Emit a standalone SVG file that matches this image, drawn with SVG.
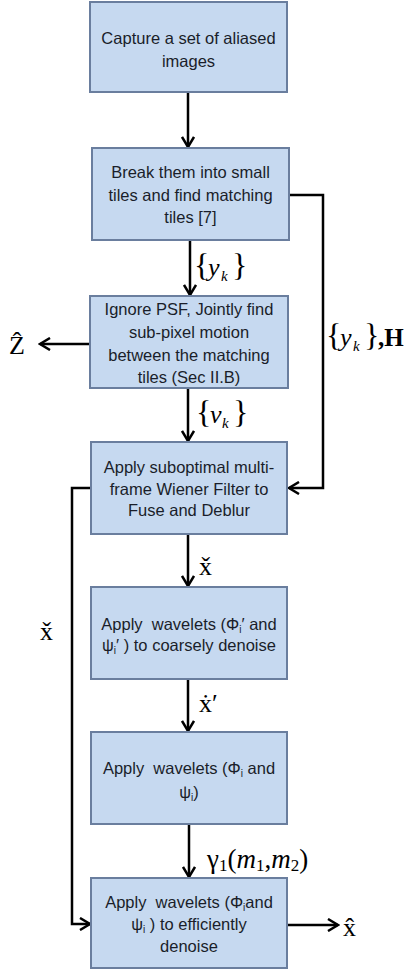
<svg xmlns="http://www.w3.org/2000/svg" width="417" height="970" viewBox="0 0 417 970">
<defs>
<style>
.box{fill:#c6d9f0;stroke:#6a7e9e;stroke-width:2}
.t{font-family:"Liberation Sans",Arial,sans-serif;font-size:16.5px;fill:#1a1e2a;text-anchor:middle;white-space:pre}
.m{font-family:"Liberation Serif","Times New Roman",serif;fill:#000}
.c{fill:none;stroke:#000;stroke-width:2.5}
</style>
<marker id="ah" viewBox="0 0 14 14" markerWidth="14" markerHeight="14" refX="12" refY="7" orient="auto" markerUnits="userSpaceOnUse">
<path d="M2,1 L12,7 L2,13" fill="none" stroke="#000" stroke-width="2.5"/>
</marker>
</defs>
<rect width="417" height="970" fill="#fff"/>

<g id="connectors">
<path class="c" d="M188,92 V147" marker-end="url(#ah)"/>
<path class="c" d="M190,240 V295" marker-end="url(#ah)"/>
<path class="c" d="M188,388 V441" marker-end="url(#ah)"/>
<path class="c" d="M188,534 V586" marker-end="url(#ah)"/>
<path class="c" d="M188,679 V731" marker-end="url(#ah)"/>
<path class="c" d="M189,824 V877" marker-end="url(#ah)"/>
<path class="c" d="M289,195 H323 V488 H289" marker-end="url(#ah)"/>
<path class="c" d="M91,488 H72 V924 H90" marker-end="url(#ah)"/>
<path class="c" d="M90,344 H40" marker-end="url(#ah)"/>
<path class="c" d="M287,925 H338" marker-end="url(#ah)"/>
</g>

<g id="labels">
<text class="m" x="194" y="276" font-size="32">{</text>
<text class="m" x="208" y="276" font-size="26" font-style="italic">y</text>
<text class="m" x="221" y="281" font-size="15" font-style="italic">k</text>
<text class="m" x="232" y="276" font-size="32">}</text>

<text class="m" x="326" y="346" font-size="32">{</text>
<text class="m" x="340" y="346" font-size="26" font-style="italic">y</text>
<text class="m" x="353" y="351" font-size="15" font-style="italic">k</text>
<text class="m" x="364" y="346" font-size="32">}</text>
<text class="m" x="378" y="346" font-size="25" font-weight="bold">,H</text>

<text class="m" x="196" y="423" font-size="32">{</text>
<text class="m" x="210" y="423" font-size="26" font-style="italic">v</text>
<text class="m" x="222" y="428" font-size="15" font-style="italic">k</text>
<text class="m" x="233" y="423" font-size="32">}</text>

<text class="m" x="9" y="354" font-size="26">Ẑ</text>
<text class="m" x="199" y="575" font-size="26">x̌</text>
<text class="m" x="40" y="640" font-size="26">x̌</text>
<text class="m" x="199" y="712" font-size="26">ẋ′</text>
<text class="m" x="207" y="868" font-size="27">γ<tspan font-size="17" dy="3">1</tspan><tspan dy="-3">(</tspan><tspan font-style="italic">m</tspan><tspan font-size="17" dy="3">1</tspan><tspan dy="-3">,</tspan><tspan font-style="italic">m</tspan><tspan font-size="17" dy="3">2</tspan><tspan dy="-3">)</tspan></text>
<text class="m" x="343" y="936" font-size="26">x̂</text>
</g>

<g id="n1">
<rect class="box" x="90" y="2" width="197" height="90"/>
<text class="t" x="188.5" y="44">Capture a set of aliased</text>
<text class="t" x="188.5" y="67">images</text>
</g>

<g id="n2">
<rect class="box" x="92" y="148" width="197" height="92"/>
<text class="t" x="190.5" y="178">Break them into small</text>
<text class="t" x="190.5" y="201">tiles and find matching</text>
<text class="t" x="190.5" y="223">tiles [7]</text>
</g>

<g id="n3">
<rect class="box" x="90" y="296" width="198" height="92"/>
<text class="t" x="189" y="315">Ignore PSF, Jointly find</text>
<text class="t" x="189" y="338">sub-pixel motion</text>
<text class="t" x="189" y="361">between the matching</text>
<text class="t" x="189" y="383">tiles (Sec II.B)</text>
</g>

<g id="n4">
<rect class="box" x="91" y="442" width="196" height="92"/>
<text class="t" x="189" y="473">Apply suboptimal multi-</text>
<text class="t" x="189" y="495">frame Wiener Filter to</text>
<text class="t" x="189" y="516">Fuse and Deblur</text>
</g>

<g id="n5">
<rect class="box" x="91" y="587" width="196" height="92"/>
<text class="t" x="189" y="630">Apply  wavelets (Φ<tspan font-size="10" dy="3">i</tspan><tspan dy="-3">′ and</tspan></text>
<text class="t" x="189" y="651">ψ<tspan font-size="10" dy="3">i</tspan><tspan dy="-3">′ ) to coarsely denoise</tspan></text>
</g>

<g id="n6">
<rect class="box" x="91" y="732" width="196" height="92"/>
<text class="t" x="189" y="774">Apply  wavelets (Φ<tspan font-size="10" dy="3">i</tspan><tspan dy="-3"> and</tspan></text>
<text class="t" x="189" y="798">ψ<tspan font-size="10" dy="3">i</tspan><tspan dy="-3">)</tspan></text>
</g>

<g id="n7">
<rect class="box" x="91" y="878" width="196" height="90"/>
<text class="t" x="189" y="908">Apply  wavelets (Φ<tspan font-size="10" dy="3">i</tspan><tspan dy="-3">and</tspan></text>
<text class="t" x="189" y="930">ψ<tspan font-size="10" dy="3">i</tspan><tspan dy="-3"> ) to efficiently</tspan></text>
<text class="t" x="189" y="952">denoise</text>
</g>
</svg>
